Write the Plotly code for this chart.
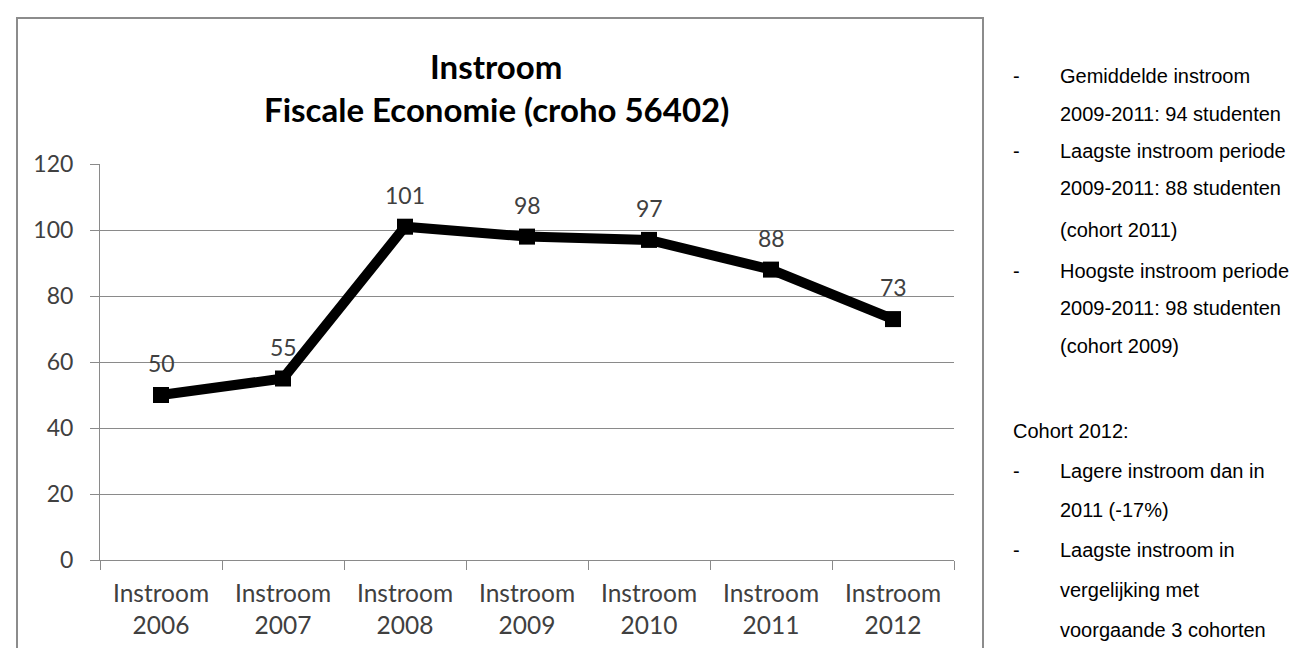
import plotly.graph_objects as go

# ---- data ----
categories = ["Instroom<br>2006", "Instroom<br>2007", "Instroom<br>2008", "Instroom<br>2009",
              "Instroom<br>2010", "Instroom<br>2011", "Instroom<br>2012"]
values = [50, 55, 101, 98, 97, 88, 73]
y_ticks = [0, 20, 40, 60, 80, 100, 120]
title_lines = ["Instroom", "Fiscale Economie (croho 56402)"]

notes = [
    ("-", "Gemiddelde instroom"),
    ("", "2009-2011: 94 studenten"),
    ("-", "Laagste instroom periode"),
    ("", "2009-2011: 88 studenten"),
    ("", "(cohort 2011)"),
    ("-", "Hoogste instroom periode"),
    ("", "2009-2011: 98 studenten"),
    ("", "(cohort 2009)"),
    (None, "Cohort 2012:"),
    ("-", "Lagere instroom dan in"),
    ("", "2011 (-17%)"),
    ("-", "Laagste instroom in"),
    ("", "vergelijking met"),
    ("", "voorgaande 3 cohorten"),
]
note_y_px = [68, 106, 143, 180, 222, 263, 300, 338, 423, 463, 502, 542, 582, 622]

# ---- layout geometry (pixels) ----
W, H = 1300, 648
PL, PR, PT, PB = 92, 946, 156, 552


def px(x):
    return (x - PL) / (PR - PL)


def py(y):
    return (PB - y) / (PB - PT)


CHART_FONT = "Lato"
GRID = "#8a8a8a"
LABEL = "#404040"

fig = go.Figure()
fig.add_trace(go.Scatter(
    x=categories, y=values, mode="lines+markers",
    line=dict(color="black", width=10),
    marker=dict(symbol="square", size=16, color="black"),
    hoverinfo="x+y", showlegend=False,
))

annotations = []
for c, v in zip(categories, values):
    annotations.append(dict(x=c, y=v, xref="x", yref="y", text=str(v), showarrow=False,
                            yshift=32, yanchor="middle",
                            font=dict(family=CHART_FONT, size=23, color=LABEL)))

title_y = [58, 101]
for t, yy in zip(title_lines, title_y):
    annotations.append(dict(x=px(488), y=py(yy), xref="paper", yref="paper", text="<b>%s</b>" % t,
                            showarrow=False, xanchor="center", yanchor="middle",
                            font=dict(family=CHART_FONT, size=33, color="black")))

for (dash, txt), yy in zip(notes, note_y_px):
    if dash:
        annotations.append(dict(x=px(1003), y=py(yy), xref="paper", yref="paper", text=dash,
                                showarrow=False, xanchor="left", yanchor="middle",
                                font=dict(family="Liberation Sans", size=20, color="black")))
    x0 = 1050 if dash is not None else 1003
    annotations.append(dict(x=px(x0), y=py(yy), xref="paper", yref="paper", text=txt,
                            showarrow=False, xanchor="left", yanchor="middle",
                            font=dict(family="Liberation Sans", size=20, color="black")))

fig.update_layout(
    width=W, height=H,
    margin=dict(l=PL, r=W - PR, t=PT, b=H - PB, pad=0),
    paper_bgcolor="white", plot_bgcolor="white",
    annotations=annotations,
    shapes=[dict(type="rect", xref="paper", yref="paper",
                 x0=px(9), x1=px(975), y0=py(720), y1=py(10),
                 line=dict(color="#8c8c8c", width=2), fillcolor="rgba(0,0,0,0)", layer="below")],
    xaxis=dict(type="category", range=[-0.5, len(categories) - 0.5],
               showline=True, linecolor=GRID, linewidth=1,
               ticks="outside", tickson="boundaries", ticklen=9, tickcolor=GRID,
               showgrid=False, zeroline=False, ticklabelstandoff=12,
               tickfont=dict(family=CHART_FONT, size=24.5, color=LABEL)),
    yaxis=dict(range=[0, 120], tickvals=y_ticks, ticktext=[str(t) for t in y_ticks],
               showline=True, linecolor=GRID, linewidth=1,
               ticks="outside", ticklen=9, tickcolor=GRID,
               showgrid=True, gridcolor=GRID, gridwidth=1, zeroline=False,
               ticklabelstandoff=12,
               tickfont=dict(family=CHART_FONT, size=23, color=LABEL)),
)

fig.write_html("out.html")
